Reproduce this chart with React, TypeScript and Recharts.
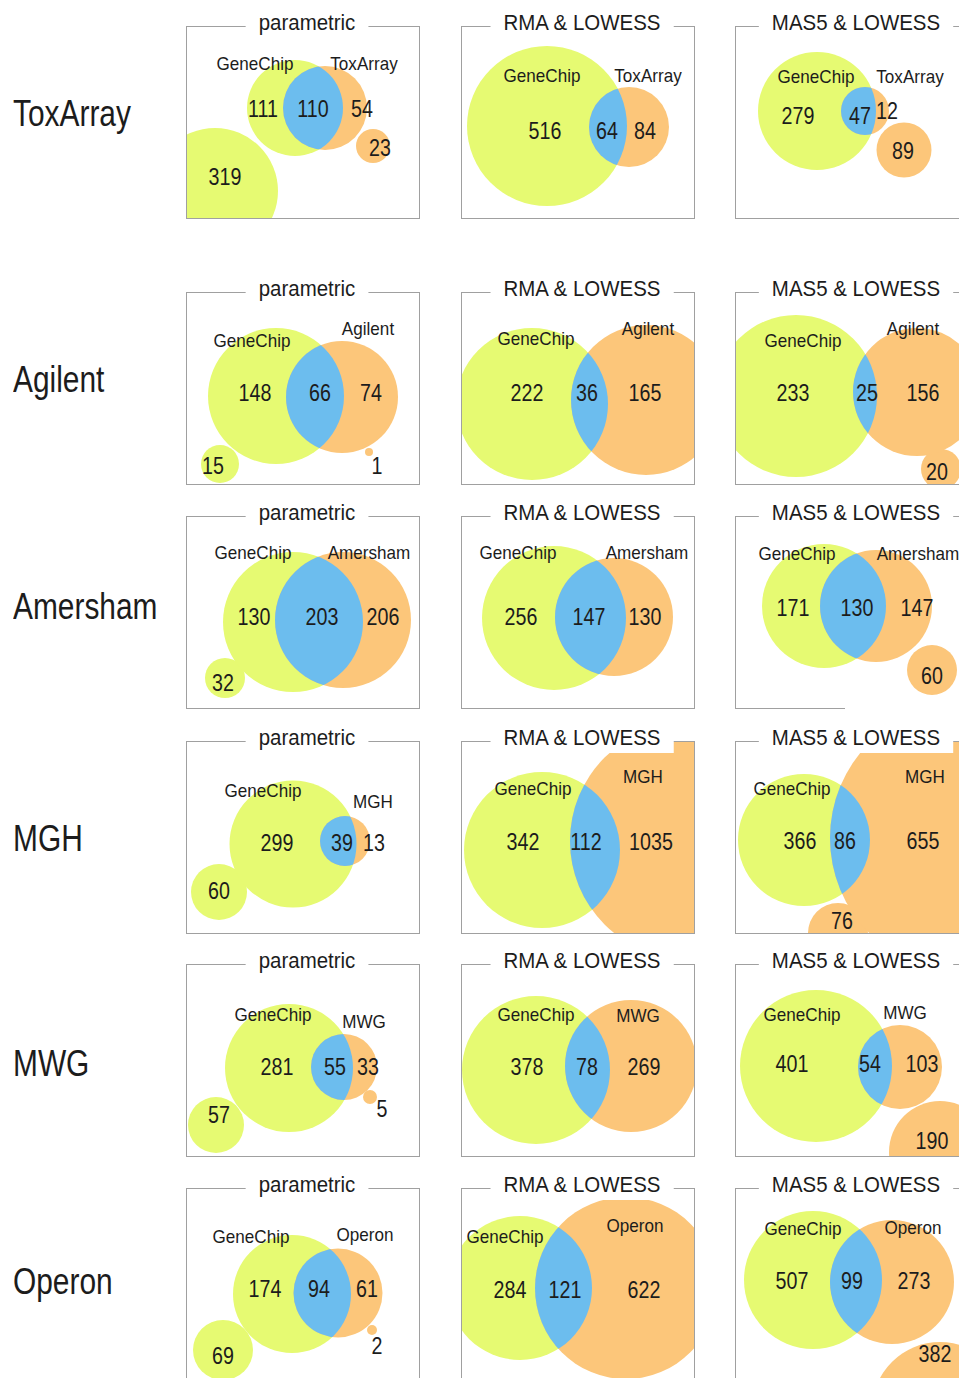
import React from 'react';
import { ScatterChart, Scatter, XAxis, YAxis } from 'recharts';

// ---------- data ----------
const PLATFORMS = ['ToxArray', 'Agilent', 'Amersham', 'MGH', 'MWG', 'Operon'];
const METHODS = ['parametric', 'RMA & LOWESS', 'MAS5 & LOWESS'];
const GENECHIP = 'GeneChip';

// per panel (row-major: platform row x method column): [GeneChip only, both, platform only]
const COUNTS: number[][] = [
  [111, 110, 54], [516, 64, 84], [279, 47, 12],
  [148, 66, 74], [222, 36, 165], [233, 25, 156],
  [130, 203, 206], [256, 147, 130], [171, 130, 147],
  [299, 39, 13], [342, 112, 1035], [366, 86, 655],
  [281, 55, 33], [378, 78, 269], [401, 54, 103],
  [174, 94, 61], [284, 121, 622], [507, 99, 273],
];

// positions of the three count labels per panel (panel units)
const COUNT_POS: number[][][] = [
  [[77, 82], [127, 82], [176, 82]], [[84, 104], [146, 104], [184, 104]], [[63, 89], [125, 89], [152, 84]],
  [[69, 100], [134, 100], [185, 100]], [[66, 100], [126, 100], [184, 100]], [[58, 100], [132, 100], [188, 100]],
  [[68, 100], [136, 100], [197, 100]], [[60, 100], [128, 100], [184, 100]], [[58, 91], [122, 91], [182, 91]],
  [[91, 101], [156, 101], [188, 101]], [[62, 100], [125, 100], [190, 100]], [[65, 99], [110, 99], [188, 99]],
  [[91, 102], [149, 102], [182, 102]], [[66, 102], [126, 102], [183, 102]], [[57, 99], [135, 99], [187, 99]],
  [[79, 100], [133, 100], [181, 100]], [[49, 101], [104, 101], [183, 101]], [[57, 92], [117, 92], [179, 92]],
];

// GeneChip circle per panel: [x, y, r]
const GENECHIP_CIRCLES: number[][] = [
  [109, 82, 48], [86, 100, 80], [82, 85, 59],
  [90, 104, 68], [71, 112, 76], [61, 104, 81],
  [107, 106, 70], [93, 102, 72], [89, 90, 62],
  [107, 103, 63.5], [81, 109, 78], [69, 99, 66],
  [103, 104, 64], [75, 106, 74], [81, 102, 76],
  [106, 106, 59], [59, 100, 72], [78, 92, 69],
];

// platform circle per panel: [x, y, r]
const PLATFORM_CIRCLES: number[][] = [
  [139, 82, 42], [168, 101, 40], [130, 85, 24],
  [156, 105, 56], [185, 108, 75], [182, 100, 64],
  [157, 104, 68], [153, 101, 59], [141, 90, 56],
  [159, 100, 25], [227, 100, 118], [230, 97, 135],
  [158, 103, 33], [170, 102, 66], [165, 103, 42],
  [152, 105, 44.5], [165, 100, 91], [157, 94, 62],
];

// name label positions per panel: [GeneChip x, y, platform x, y]
const NAME_POS: number[][] = [
  [69, 39, 178, 39], [81, 51, 187, 51], [81, 52, 175, 52],
  [66, 50, 182, 38], [75, 48, 187, 38], [68, 50, 178, 38],
  [67, 38, 183, 38], [57, 38, 186, 38], [62, 39, 183, 39],
  [77, 51, 187, 62], [72, 49, 182, 37], [57, 49, 190, 37],
  [87, 52, 178, 59], [75, 52, 177, 53], [67, 52, 170, 50],
  [65, 50, 179, 48], [44, 50, 174, 39], [68, 42, 178, 41],
];

// extra (separate) circles: panel, side, value, circle x, y, r, label x, y
const EXTRAS = [
  { panel: 0, side: 'g', value: 319, x: 29, y: 165, r: 63, lx: 39, ly: 150 },
  { panel: 0, side: 'o', value: 23, x: 187, y: 120, r: 17, lx: 194, ly: 121 },
  { panel: 2, side: 'o', value: 89, x: 169, y: 124, r: 27.5, lx: 168, ly: 124 },
  { panel: 3, side: 'g', value: 15, x: 34, y: 172, r: 19, lx: 27, ly: 173 },
  { panel: 3, side: 'o', value: 1, x: 183, y: 160, r: 4, lx: 191, ly: 173 },
  { panel: 5, side: 'o', value: 20, x: 206, y: 177, r: 20, lx: 202, ly: 179 },
  { panel: 6, side: 'g', value: 32, x: 39, y: 162, r: 20, lx: 37, ly: 166 },
  { panel: 8, side: 'o', value: 60, x: 197, y: 154, r: 25, lx: 197, ly: 159 },
  { panel: 9, side: 'g', value: 60, x: 33, y: 151, r: 28, lx: 33, ly: 149 },
  { panel: 11, side: 'o', value: 76, x: 103, y: 192, r: 30, lx: 107, ly: 179 },
  { panel: 12, side: 'g', value: 57, x: 30, y: 161, r: 28, lx: 33, ly: 150 },
  { panel: 12, side: 'o', value: 5, x: 184, y: 133, r: 7, lx: 196, ly: 144 },
  { panel: 14, side: 'o', value: 190, x: 205, y: 188, r: 51, lx: 197, ly: 176 },
  { panel: 15, side: 'g', value: 69, x: 37, y: 162, r: 30, lx: 37, ly: 167 },
  { panel: 15, side: 'o', value: 2, x: 186, y: 142, r: 5, lx: 191, ly: 157 },
  { panel: 17, side: 'o', value: 382, x: 205, y: 222, r: 68, lx: 200, ly: 165 },
];

// ---------- layout / style ----------
const BOX_LEFT = [186, 461, 735];
const BOX_TOP = [26, 292, 516, 741, 964, 1188];
const ROW_LABEL_Y = [113, 379, 606, 838, 1063, 1281];
const BOX_W = 234;
const BOX_H = 193;
const X_MAX = 234;
const Y_MAX = 193;
const PARTIAL_BOTTOM: Record<number, number> = { 8: 110 };

const GREEN = '#e6fa72';
const ORANGE = '#fcc67a';
const BLUE = '#6cbdee';
const TEXT = '#1c1c1c';
const BORDER = '#a0a0a0';
const FONT = '"Liberation Sans", Arial, Helvetica, sans-serif';

const K = BOX_W / X_MAX;

const renderCircle = (props: any) => {
  const { cx, cy, payload } = props;
  if (cx == null || cy == null) return <g />;
  const r = payload.r * K;
  const clipId = `gc-clip-${payload.panel}`;
  if (payload.kind === 'gMain') {
    return (
      <g>
        <defs>
          <clipPath id={clipId}>
            <circle cx={cx} cy={cy} r={r} />
          </clipPath>
        </defs>
        <circle cx={cx} cy={cy} r={r} fill={GREEN} />
      </g>
    );
  }
  if (payload.kind === 'oMain') {
    return (
      <g>
        <circle cx={cx} cy={cy} r={r} fill={ORANGE} />
        <circle cx={cx} cy={cy} r={r} fill={BLUE} clipPath={`url(#${clipId})`} />
      </g>
    );
  }
  return <circle cx={cx} cy={cy} r={r} fill={payload.kind === 'g' ? GREEN : ORANGE} />;
};

const renderLabel = (props: any) => {
  const { cx, cy, payload } = props;
  if (cx == null || cy == null) return <g />;
  const isCount = payload.kind === 'count';
  return (
    <text
      transform={`translate(${cx},${cy}) scale(${isCount ? 0.82 : 0.95},1)`}
      x={0}
      y={0}
      dy={isCount ? '0.36em' : '0.3em'}
      textAnchor="middle"
      fontSize={isCount ? 24 : 18}
      fontFamily={FONT}
      fill={TEXT}
    >
      {payload.text}
    </text>
  );
};

function Panel({ idx }: { idx: number }) {
  const row = Math.floor(idx / 3);
  const col = idx % 3;
  const bx = BOX_LEFT[col];
  const by = BOX_TOP[row];
  const g = GENECHIP_CIRCLES[idx];
  const p = PLATFORM_CIRCLES[idx];
  const extras = EXTRAS.filter((e) => e.panel === idx);

  const circles = [
    ...extras.map((e) => ({ x: e.x, y: e.y, r: e.r, kind: e.side, panel: idx })),
    { x: g[0], y: g[1], r: g[2], kind: 'gMain', panel: idx },
    { x: p[0], y: p[1], r: p[2], kind: 'oMain', panel: idx },
  ];

  const n = NAME_POS[idx];
  const labels = [
    { x: n[0], y: n[1], text: GENECHIP, kind: 'name' },
    { x: n[2], y: n[3], text: PLATFORMS[row], kind: 'name' },
    ...COUNTS[idx].map((v, i) => ({ x: COUNT_POS[idx][i][0], y: COUNT_POS[idx][i][1], text: String(v), kind: 'count' })),
    ...extras.map((e) => ({ x: e.lx, y: e.ly, text: String(e.value), kind: 'count' })),
  ];

  const partial = PARTIAL_BOTTOM[idx];

  return (
    <>
      <div style={{ position: 'absolute', left: bx, top: by, width: BOX_W, height: BOX_H, overflow: 'hidden' }}>
        <ScatterChart width={BOX_W} height={BOX_H} margin={{ top: 0, right: 0, bottom: 0, left: 0 }}>
          <XAxis type="number" dataKey="x" domain={[0, X_MAX]} hide allowDataOverflow />
          <YAxis type="number" dataKey="y" domain={[0, Y_MAX]} reversed hide allowDataOverflow />
          <Scatter data={circles} shape={renderCircle} isAnimationActive={false} />
          <Scatter data={labels} shape={renderLabel} isAnimationActive={false} />
        </ScatterChart>
      </div>
      <div
        style={{
          position: 'absolute',
          left: bx,
          top: by,
          width: BOX_W,
          height: BOX_H,
          boxSizing: 'border-box',
          border: `1.5px solid ${BORDER}`,
          borderBottom: partial ? 'none' : `1.5px solid ${BORDER}`,
        }}
      />
      {partial ? (
        <div style={{ position: 'absolute', left: bx, top: by + BOX_H - 1.5, width: partial, height: 1.5, background: BORDER }} />
      ) : null}
      <div
        style={{
          position: 'absolute',
          left: bx + BOX_W / 2 + 4,
          top: by - 16,
          transform: 'translateX(-50%) scaleX(0.93)',
          background: '#fff',
          padding: '0 14px',
          height: 28,
          lineHeight: '26px',
          fontSize: 22,
          whiteSpace: 'nowrap',
          color: TEXT,
        }}
      >
        {METHODS[col]}
      </div>
    </>
  );
}

export default function App() {
  return (
    <div
      style={{
        position: 'absolute',
        left: 0,
        top: 0,
        width: 959,
        height: 1378,
        overflow: 'hidden',
        background: '#fff',
        fontFamily: FONT,
        color: TEXT,
      }}
    >
      {PLATFORMS.map((name, row) => (
        <div
          key={name}
          style={{
            position: 'absolute',
            left: 13,
            top: ROW_LABEL_Y[row] - 17,
            fontSize: 36,
            lineHeight: '36px',
            transform: 'scaleX(0.83)',
            transformOrigin: 'left center',
            whiteSpace: 'nowrap',
          }}
        >
          {name}
        </div>
      ))}
      {COUNTS.map((_, idx) => (
        <Panel key={idx} idx={idx} />
      ))}
    </div>
  );
}
